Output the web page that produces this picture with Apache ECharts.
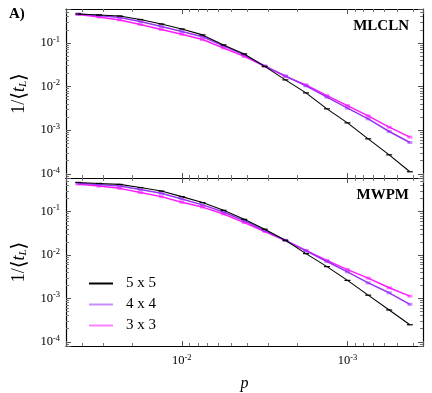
<!DOCTYPE html>
<html>
<head>
<meta charset="utf-8">
<script src="https://cdn.jsdelivr.net/npm/echarts@6/dist/echarts.min.js"></script>
<style>
    html, body { margin: 0; padding: 0; background: #fff; }
    #chart { width: 432px; height: 393px; }
</style>
</head>
<body>
<div id="chart"></div>
<script>
// physical error rate p (x axis)
var pValues = [0.0422, 0.0316, 0.0237, 0.0178, 0.0133, 0.0100, 0.0075, 0.0056, 0.0042,
    0.00316, 0.00237, 0.00178, 0.00133, 0.00100, 0.00075, 0.00056, 0.00042];

// 1/<t_L>, MLCLN panel
var mlcln5 = [0.461, 0.438, 0.415, 0.345, 0.272, 0.209, 0.153, 0.090, 0.056,
    0.0290, 0.0142, 0.00716, 0.00308, 0.00147, 0.000633, 0.000272, 0.000111];
var mlcln4 = [0.461, 0.427, 0.384, 0.310, 0.239, 0.183, 0.139, 0.0854, 0.0531,
    0.0297, 0.0175, 0.0104, 0.00571, 0.00320, 0.00182, 0.000931, 0.000521];
var mlcln3 = [0.450, 0.394, 0.336, 0.265, 0.204, 0.158, 0.120, 0.0768, 0.0491,
    0.0290, 0.0171, 0.0109, 0.00621, 0.00366, 0.00213, 0.00117, 0.000693];

// 1/<t_L>, MWPM panel
var mwpm5 = [0.473, 0.449, 0.427, 0.361, 0.300, 0.223, 0.163, 0.108, 0.0668,
    0.0396, 0.0219, 0.0108, 0.00542, 0.00261, 0.00119, 0.000542, 0.000247];
var mwpm4 = [0.456, 0.427, 0.390, 0.324, 0.266, 0.197, 0.144, 0.0985, 0.0618,
    0.0370, 0.0219, 0.0125, 0.00711, 0.00411, 0.00228, 0.00135, 0.000731];
var mwpm3 = [0.433, 0.390, 0.346, 0.277, 0.223, 0.166, 0.128, 0.0887, 0.0562,
    0.0351, 0.0217, 0.0128, 0.00754, 0.00463, 0.00295, 0.00176, 0.00113];

var sizeNames = ['5 x 5', '4 x 4', '3 x 3'];
var sizeColors = ['#000000', '#9a32f5', '#ff1aff'];

var chart = echarts.init(document.getElementById('chart'));
var serif = 'Liberation Serif';

function powLabel(v) {
    var e = Math.round(Math.log(v) / Math.LN10);
    return '{b|10}{e|' + e + '}';
}

var labelRich = {
    b: {fontFamily: serif, fontSize: 12.5, color: '#000'},
    e: {fontFamily: serif, fontSize: 8.5, color: '#000', padding: [0, 0, 7, 0]}
};

function xAxisFor(grid, position, labels) {
    return {
        type: 'log', logBase: 10, gridIndex: grid, position: position,
        inverse: true, min: 0.00035, max: 0.05, splitNumber: 2,
        name: labels ? 'p' : '', nameLocation: 'middle', nameGap: 30,
        nameTextStyle: {fontFamily: serif, fontStyle: 'italic', fontSize: 16, color: '#000'},
        axisLine: {show: true, onZero: false, lineStyle: {color: '#000', width: 1.2}},
        axisTick: {show: true, inside: true, length: 5, lineStyle: {color: '#555'}},
        minorTick: {show: true, splitNumber: 9, length: 3, lineStyle: {color: '#777'}},
        axisLabel: {show: labels, formatter: powLabel, rich: labelRich, margin: 7,
            showMinLabel: false, showMaxLabel: false},
        splitLine: {show: false}
    };
}

function yAxisFor(grid, position, labels) {
    return {
        type: 'log', logBase: 10, gridIndex: grid, position: position,
        min: 0.00008, max: 0.6, splitNumber: 3,
        name: labels ? '{a|1/}{k|⟨}{t|t}{s|L}{k|⟩}' : '', nameLocation: 'middle', nameGap: 34,
        nameTextStyle: {
            rich: {
                a: {fontFamily: serif, fontSize: 18, color: '#000'},
                k: {fontFamily: 'DejaVu Serif', fontSize: 20, color: '#000'},
                t: {fontFamily: serif, fontStyle: 'italic', fontSize: 18, color: '#000'},
                s: {fontFamily: serif, fontStyle: 'italic', fontSize: 11, color: '#000', padding: [8, 0, 0, 0]}
            }
        },
        axisLine: {show: true, onZero: false, lineStyle: {color: '#000', width: 1.2}},
        axisTick: {show: true, inside: true, length: 5, lineStyle: {color: '#555'}},
        minorTick: {show: true, splitNumber: 9, length: 3, lineStyle: {color: '#777'}},
        axisLabel: {show: labels, formatter: powLabel, rich: labelRich, margin: 6,
            showMinLabel: false, showMaxLabel: false},
        splitLine: {show: false}
    };
}

function lineSeries(idx, values, grid) {
    return {
        name: sizeNames[idx],
        type: 'line',
        xAxisIndex: grid * 2,
        yAxisIndex: grid * 2,
        data: pValues.map(function (p, i) { return [p, values[i]]; }),
        symbol: 'rect',
        symbolSize: idx === 0 ? [6, 1.2] : [5, 3],
        showSymbol: true,
        color: sizeColors[idx],
        lineStyle: {width: idx === 0 ? 1.1 : 1.5, color: sizeColors[idx]},
        itemStyle: {color: sizeColors[idx], opacity: idx === 0 ? 1 : 0.55},
        z: 10 - idx,
        animation: false
    };
}

var option = {
    animation: false,
    title: [
        {text: 'A)', left: 4, top: 2, textStyle: {fontFamily: serif, fontWeight: 'bold', fontSize: 15, color: '#000'}},
        {text: 'MLCLN', right: 18, top: 14, textStyle: {fontFamily: serif, fontWeight: 'bold', fontSize: 15, color: '#000'}},
        {text: 'MWPM', right: 18, top: 183, textStyle: {fontFamily: serif, fontWeight: 'bold', fontSize: 15, color: '#000'}}
    ],
    legend: {
        data: sizeNames,
        orient: 'vertical',
        left: 84, top: 271,
        icon: 'rect',
        itemWidth: 24, itemHeight: 2,
        itemGap: 6,
        textStyle: {fontFamily: serif, fontSize: 15, color: '#000', padding: [0, 0, 0, 8]}
    },
    grid: [
        {left: 66, right: 9, top: 9, height: 169},
        {left: 66, right: 9, top: 178, height: 169}
    ],
    xAxis: [
        xAxisFor(0, 'bottom', false), xAxisFor(0, 'top', false),
        xAxisFor(1, 'bottom', true), xAxisFor(1, 'top', false)
    ],
    yAxis: [
        yAxisFor(0, 'left', true), yAxisFor(0, 'right', false),
        yAxisFor(1, 'left', true), yAxisFor(1, 'right', false)
    ],
    series: [
        lineSeries(0, mlcln5, 0), lineSeries(1, mlcln4, 0), lineSeries(2, mlcln3, 0),
        lineSeries(0, mwpm5, 1), lineSeries(1, mwpm4, 1), lineSeries(2, mwpm3, 1)
    ]
};

chart.setOption(option);
</script>
</body>
</html>
